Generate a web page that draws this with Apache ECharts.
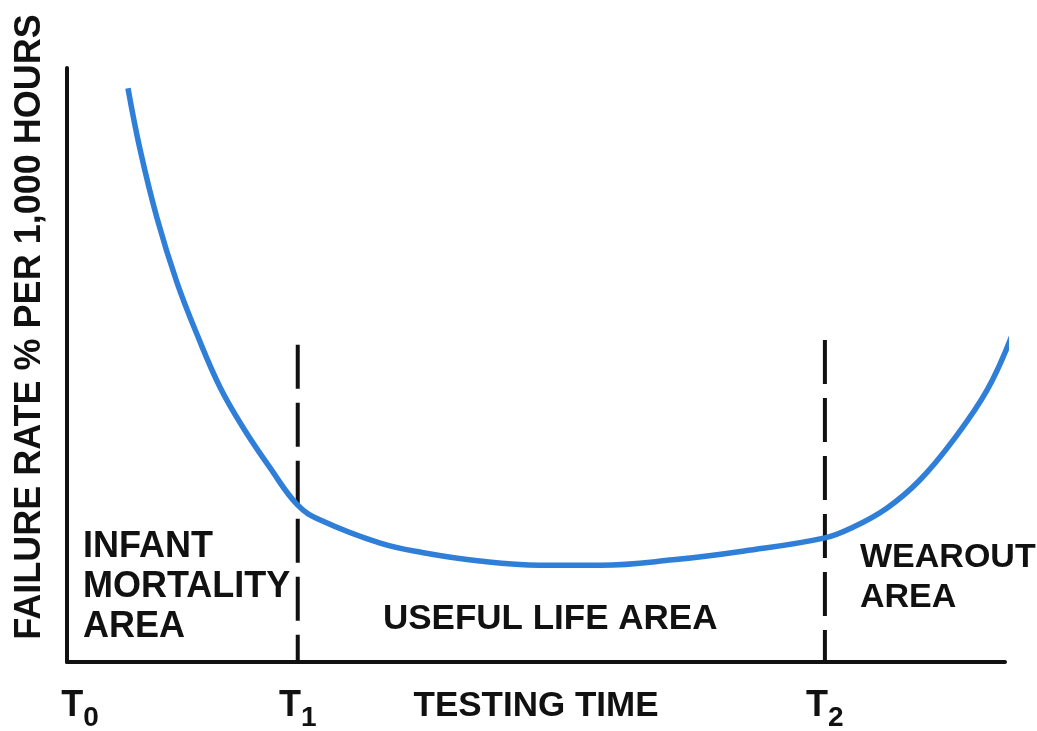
<!DOCTYPE html>
<html>
<head>
<meta charset="utf-8">
<script src="https://cdn.jsdelivr.net/npm/echarts@6/dist/echarts.min.js"></script>
<style>
  html, body { margin: 0; padding: 0; background: #fff; }
  #main { width: 1037px; height: 731px; }
</style>
</head>
<body>
<div id="main"></div>
<script>
// bathtub curve, x = testing time (0-100), y = failure rate (0-100)
var curveX = [6.5, 7.8, 9.6, 11.7, 13.9, 16.3, 18.8, 21.6, 24.6, 27.0, 33.4, 38.0, 44.0, 50.4, 56.9, 64.6, 72.2, 80.8, 83.8, 87.4, 90.9, 94.5, 98.1, 100.75];
var curveY = [96.6, 86.2, 74.7, 64.0, 55.0, 46.3, 39.4, 32.8, 26.4, 23.9, 20.0, 18.4, 17.0, 16.3, 16.3, 17.2, 18.7, 20.9, 22.7, 25.9, 30.6, 37.4, 45.8, 55.0];

var tickNames = ['0', '1', '2'];
var tickPos = [1.4, 24.6, 80.8];
var dividerPos = [24.6, 80.8];
var dividerTop = [53.4, 54.2];

var font = '"Liberation Sans", Arial, sans-serif';

var curveData = curveX.map(function (x, i) { return [x, curveY[i]]; });

var series = [{
    type: 'line',
    data: curveData,
    smooth: 0.4,
    symbol: 'none',
    clip: false,
    lineStyle: { color: '#2f7fd8', width: 5.5 },
    z: 3
}];
dividerPos.forEach(function (x, i) {
    series.push({
        type: 'line',
        data: [[x, dividerTop[i]], [x, 0]],
        symbol: 'none',
        lineStyle: { color: '#111', width: 4, type: [44, 14] },
        z: 2
    });
});

var myChart = echarts.init(document.getElementById('main'));
var option = {
    backgroundColor: '#fff',
    animation: false,
    grid: { left: 67, right: 32, top: 68, bottom: 69, outerBoundsMode: 'none', containLabel: false },
    xAxis: {
        type: 'value',
        min: 0,
        max: 100,
        name: 'TESTING TIME',
        nameLocation: 'middle',
        nameGap: 27,
        nameMoveOverlap: false,
        nameTextStyle: { fontFamily: font, fontWeight: 'bold', fontSize: 35, color: '#111', verticalAlign: 'top' },
        axisLine: { lineStyle: { color: '#111', width: 4 } },
        axisTick: { show: false },
        splitLine: { show: false },
        axisLabel: {
            customValues: tickPos,
            margin: 26,
            formatter: function (v) {
                var i = tickPos.indexOf(v);
                return '{t|T}{s|' + tickNames[i] + '}';
            },
            rich: {
                t: { fontFamily: font, fontWeight: 'bold', fontSize: 36, color: '#111', lineHeight: 30, verticalAlign: 'top' },
                s: { fontFamily: font, fontWeight: 'bold', fontSize: 28, color: '#111', lineHeight: 28, verticalAlign: 'top', padding: [16, 0, 0, 0] }
            }
        }
    },
    yAxis: {
        type: 'value',
        min: 0,
        max: 100,
        axisLine: { show: true, lineStyle: { color: '#111', width: 4 } },
        axisTick: { show: false },
        axisLabel: { show: false },
        splitLine: { show: false }
    },
    graphic: [
        { type: 'text', x: 30, y: 327, rotation: Math.PI / 2, style: { text: 'FAILURE RATE % PER 1,000 HOURS', font: 'bold 36px ' + font, fill: '#111', align: 'center', verticalAlign: 'middle' } },
        { type: 'text', left: 83, top: 527, style: { text: 'INFANT\nMORTALITY\nAREA', font: 'bold 36px ' + font, fill: '#111', lineHeight: 40 } },
        { type: 'text', left: 383, top: 602, style: { text: 'USEFUL LIFE AREA', font: 'bold 35px ' + font, fill: '#111' } },
        { type: 'text', left: 860, top: 538, style: { text: 'WEAROUT\nAREA', font: 'bold 34px ' + font, fill: '#111', lineHeight: 40 } }
    ],
    series: series
};
myChart.setOption(option);
</script>
</body>
</html>
